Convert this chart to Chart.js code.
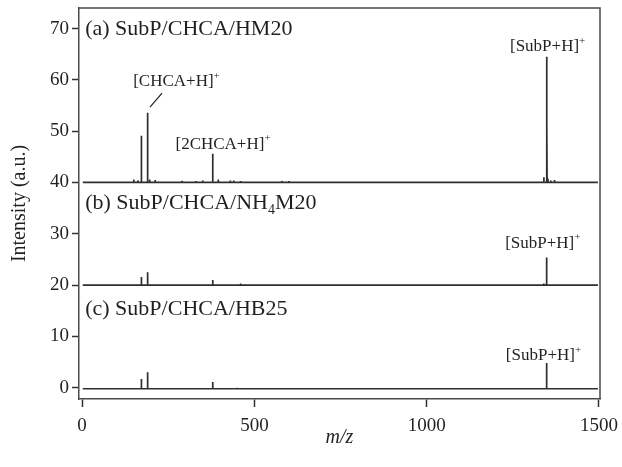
<!DOCTYPE html>
<html>
<head>
<meta charset="utf-8">
<script src="https://cdn.jsdelivr.net/npm/chart.js@4.4.1/dist/chart.umd.min.js"></script>
<style>
  html, body { margin: 0; padding: 0; background: #fff; }
</style>
</head>
<body>
<canvas id="myChart" width="622" height="467"></canvas>
<script>
// spectrum range and axis ticks
const mzRange = [2, 1497];
const xTicks = [0, 500, 1000, 1500];
const yTicks = [0, 10, 20, 30, 40, 50, 60, 70];

// baseline of each stacked trace
const offsets = [40, 20, -0.2];

// (a) SubP/CHCA/HM20  - peak m/z and height above baseline
const mzA  = [150, 162, 172, 190, 196, 212, 290, 330, 350, 379, 395, 430, 440, 460, 520, 580, 600, 1340, 1348, 1349, 1352, 1360, 1371];
const intA = [0.6, 0.4, 9.1, 13.6, 0.6, 0.5, 0.3, 0.3, 0.4, 5.6, 0.6, 0.4, 0.4, 0.3, 0.2, 0.3, 0.3, 1.0, 24.5, 11.3, 0.7, 0.4, 0.5];

// (b) SubP/CHCA/NH4M20
const mzB  = [172, 190, 379, 460, 1340, 1348];
const intB = [1.6, 2.5, 1.0, 0.3, 0.3, 5.4];

// (c) SubP/CHCA/HB25
const mzC  = [172, 190, 379, 450, 1348];
const intC = [1.9, 3.2, 1.3, 0.2, 5.0];

// panel labels (left x in m/z, centre y in data units)
const panelText = ['(a) SubP/CHCA/HM20', '(b) SubP/CHCA/NH_{4}M20', '(c) SubP/CHCA/HB25'];
const panelX = [9, 9, 9];
const panelY = [70.2, 36.2, 15.6];

// peak annotations (centre of main text)
const annText = ['[CHCA+H]^{+}', '[2CHCA+H]^{+}', '[SubP+H]^{+}', '[SubP+H]^{+}', '[SubP+H]^{+}'];
const annX = [265, 400, 1342, 1328, 1330];
const annY = [59.9, 47.7, 66.7, 28.4, 6.4];

// leader line for [CHCA+H]+
const leaderFrom = [232, 57.4];
const leaderTo = [197, 54.7];

const serif = "'Liberation Serif', 'DejaVu Serif', serif";
const ink = '#231f20';

function buildTrace(mz, inten, base) {
    let pts = [{x: mzRange[0], y: base}];
    mz.forEach((m, i) => {
        pts.push({x: m - 0.4, y: base});
        pts.push({x: m, y: base + inten[i]});
        pts.push({x: m + 0.4, y: base});
    });
    pts.push({x: mzRange[1], y: base});
    return pts;
}

// split "NH_{4}" / "H]^{+}" into runs
function parseRuns(str) {
    let runs = [];
    let re = /([_^])\{([^}]*)\}/g;
    let last = 0, m;
    while ((m = re.exec(str)) !== null) {
        if (m.index > last) runs.push({t: str.slice(last, m.index), k: ''});
        runs.push({t: m[2], k: m[1]});
        last = re.lastIndex;
    }
    if (last < str.length) runs.push({t: str.slice(last), k: ''});
    return runs;
}

function drawRich(ctx, str, x, y, size, align) {
    let runs = parseRuns(str);
    let small = Math.round(size * 0.62);
    let widths = runs.map(r => {
        ctx.font = (r.k ? small : size) + 'px ' + serif;
        return ctx.measureText(r.t).width;
    });
    let cx = x;
    if (align === 'center') {
        // centre on the main (non-superscript) text
        let w = 0;
        runs.forEach((r, i) => { if (r.k !== '^') w += widths[i]; });
        cx = x - w / 2;
    }
    ctx.textBaseline = 'alphabetic';
    ctx.textAlign = 'left';
    let base = y + size * 0.33;
    runs.forEach((r, i) => {
        let dy = 0;
        if (r.k === '^') dy = -size * 0.42;
        if (r.k === '_') dy = size * 0.2;
        ctx.font = (r.k ? small : size) + 'px ' + serif;
        ctx.fillText(r.t, cx, base + dy);
        cx += widths[i];
    });
}

const labelPlugin = {
    id: 'labels',
    afterDatasetsDraw(chart) {
        const {ctx, chartArea: a, scales: {x, y}} = chart;
        ctx.save();
        // frame (top and right sides)
        ctx.strokeStyle = '#4a4a4a';
        ctx.lineWidth = 1.5;
        ctx.beginPath();
        ctx.moveTo(a.left, a.top);
        ctx.lineTo(a.right, a.top);
        ctx.lineTo(a.right, a.bottom);
        ctx.stroke();

        ctx.fillStyle = ink;
        panelText.forEach((t, i) => {
            drawRich(ctx, t, x.getPixelForValue(panelX[i]), y.getPixelForValue(panelY[i]), 22, 'left');
        });
        annText.forEach((t, i) => {
            drawRich(ctx, t, x.getPixelForValue(annX[i]), y.getPixelForValue(annY[i]), 17, 'center');
        });

        ctx.strokeStyle = ink;
        ctx.lineWidth = 1.2;
        ctx.beginPath();
        ctx.moveTo(x.getPixelForValue(leaderFrom[0]), y.getPixelForValue(leaderFrom[1]));
        ctx.lineTo(x.getPixelForValue(leaderTo[0]), y.getPixelForValue(leaderTo[1]));
        ctx.stroke();
        ctx.restore();
    }
};

const traces = [buildTrace(mzA, intA, offsets[0]), buildTrace(mzB, intB, offsets[1]), buildTrace(mzC, intC, offsets[2])];

new Chart(document.getElementById('myChart').getContext('2d'), {
    type: 'line',
    data: {
        datasets: traces.map(d => ({
            data: d,
            borderColor: '#2e2e2e',
            borderWidth: 1.7,
            pointRadius: 0,
            tension: 0,
            fill: false
        }))
    },
    options: {
        responsive: false,
        animation: false,
        layout: {padding: {top: 8, right: 22, left: 0, bottom: 0}},
        plugins: {legend: {display: false}, tooltip: {enabled: false}},
        scales: {
            x: {
                type: 'linear',
                min: -9,
                max: 1503,
                afterBuildTicks: s => { s.ticks = xTicks.map(v => ({value: v})); },
                afterFit: s => { s.height = 68; s.paddingLeft = 0; s.paddingRight = 0; },
                grid: {drawOnChartArea: false, drawTicks: true, tickLength: 8, tickColor: '#333', tickWidth: 1.5},
                border: {color: '#4a4a4a', width: 1.5},
                ticks: {font: {family: serif, size: 19}, color: ink, padding: 8, maxRotation: 0, callback: v => String(v)},
                title: {display: true, text: 'm/z', color: ink, font: {family: serif, size: 20, style: 'italic'}, padding: {top: 0, bottom: 17}}
            },
            y: {
                min: -2.2,
                max: 74,
                afterBuildTicks: s => { s.ticks = yTicks.map(v => ({value: v})); },
                afterFit: s => { s.width = 79; s.paddingTop = 0; s.paddingBottom = 0; },
                grid: {drawOnChartArea: false, drawTicks: true, tickLength: 7, tickColor: '#333', tickWidth: 1.5},
                border: {color: '#4a4a4a', width: 1.5},
                ticks: {font: {family: serif, size: 19}, color: ink, padding: 3, callback: v => String(v)},
                title: {display: true, text: 'Intensity (a.u.)', color: ink, font: {family: serif, size: 20}, padding: {top: 8, bottom: 0}}
            }
        }
    },
    plugins: [labelPlugin]
});
</script>
</body>
</html>
